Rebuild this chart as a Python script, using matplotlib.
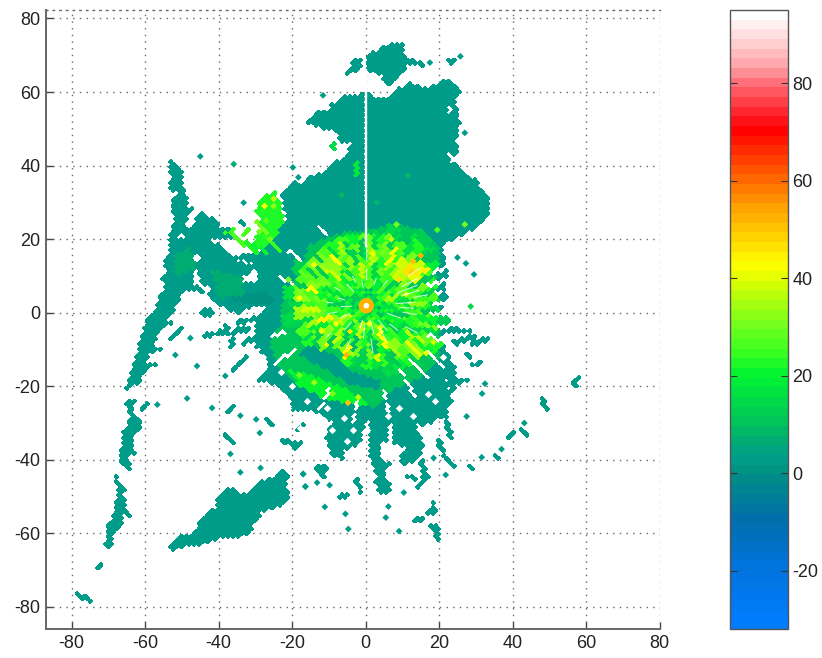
#!/usr/bin/env python3

import numpy as np
import matplotlib
matplotlib.use("Agg")
import matplotlib.pyplot as plt
from matplotlib.cm import ScalarMappable
from matplotlib.collections import LineCollection
from matplotlib.colors import LinearSegmentedColormap, Normalize
from matplotlib.patches import Circle
from matplotlib.path import Path

nan = np.nan

# reflectivity scale, value -> rgb
scale_values = [-32, -20, -10, 0, 3, 6, 10, 20, 25, 30, 40, 43, 45, 50, 55, 60, 65, 71, 75, 80, 85, 90, 95]
scale_colors = [(0, 125, 255), (0, 115, 220), (0, 110, 170), (0, 145, 130), (0, 160, 140), (0, 170, 115),
                (0, 195, 90), (0, 245, 50), (60, 255, 30), (110, 255, 30), (225, 255, 0), (255, 255, 0),
                (255, 240, 0), (255, 200, 0), (255, 160, 0), (255, 110, 0), (255, 60, 0), (255, 0, 0),
                (255, 40, 50), (255, 100, 110), (255, 170, 175), (255, 215, 215), (255, 255, 255)]
axis_ticks = [-80, -60, -40, -20, 0, 20, 40, 60, 80]
bar_ticks = [-20, 0, 20, 40, 60, 80]

clutter_db = 3

# big low-reflectivity outlines (km east, km north)
north_east = [(0.6, 59.5), (3.8, 57.9), (7, 58.6), (7.3, 60.5), (9.7, 61.4), (12, 62.5), (16.1, 60.9), (19.3, 62.3),
              (22.9, 63.6), (24.3, 61.8), (26.1, 60.5), (24.7, 59.1), (24.3, 55.9), (25.6, 55), (24.7, 53.2),
              (26.5, 51.4), (24.7, 50.5), (25.6, 48.2), (24.3, 47.7), (24.7, 45.5), (26.1, 43.6), (24.7, 43),
              (22.5, 43.2), (22.9, 40.9), (25.6, 39.5), (27, 37.7), (30.2, 35.9), (31.5, 33.2), (33.8, 32.3),
              (34, 30.8), (33, 25.4), (29.5, 22.6), (25.9, 20.8), (21.4, 18.9), (0.6, 12)]
north_west = [(-0.4, 59.5), (-6.2, 59.1), (-9.4, 56.4), (-9.4, 55), (-13, 55), (-15.3, 52.7), (-15.7, 51.4),
              (-12.5, 50.5), (-12.5, 49.5), (-8, 50), (-7.5, 46.4), (-3.9, 46.4), (-4.8, 44.1), (-4.8, 42.7),
              (-8.9, 40.5), (-12.5, 37.7), (-15.3, 36.8), (-17.1, 35), (-18.9, 35.5), (-23.5, 32.3), (-22.7, 30.8),
              (-21.4, 25.4), (-24, 21.7), (-25.9, 18.1), (-23, 12), (-0.4, 12)]
top_lobe = [(0.2, 69.7), (2.9, 71.4), (7.9, 73.2), (10.2, 73), (10.2, 70.5), (11.5, 69.1), (16.5, 67.7), (16.1, 67),
            (11.5, 67.7), (10.6, 65.9), (7.9, 63.6), (7.5, 61.8), (5.2, 61.5), (4.7, 65), (2.5, 65), (0.2, 66.4)]
top_small_a = [(-3.5, 68.6), (-1.2, 68.6), (-1.2, 65.9), (-3.9, 65), (-5.1, 65), (-4.8, 65.9)]
top_small_b = [(22.5, 68.6), (24.3, 68.8), (22.9, 67.3), (21.8, 67.3)]
west_arm = [(-52.5, 41.7), (-50.9, 39.9), (-49.5, 38.1), (-50, 35.4), (-49.1, 32.6), (-48.2, 30.8), (-49.1, 29),
            (-46.8, 28.1), (-48.6, 25.8), (-49.4, 23.1), (-47.7, 23.1), (-45, 27.2), (-43.6, 26.7), (-40, 24.5),
            (-39.5, 22.6), (-36.8, 23.1), (-35, 22.6), (-36.8, 20.4), (-40.5, 20.4), (-43.2, 19.9), (-39.5, 18.1),
            (-37.7, 17.2), (-36.8, 14.9), (-34.1, 13.5), (-30, 13.1), (-28.2, 12.6), (-30.5, 11.7), (-35.9, 8.5),
            (-31.4, 8.1), (-29.5, 8.5), (-26.8, 5.4), (-23.2, 6.3), (-23.2, 1.7), (-30.5, 1.7), (-35, -0.5),
            (-37.7, 0.8), (-40, 2.2), (-44.1, 5.4), (-48.6, 6.3), (-50.9, 3.5), (-52.3, 1.7), (-52.3, -0.5),
            (-54.5, -1.9), (-52.3, -2.8), (-56.4, -4.6), (-57.7, -9.2), (-54.1, -10.1), (-59.1, -11), (-59.5, -13.7),
            (-55, -13.7), (-60, -15.5), (-61.4, -19.2), (-64.1, -20.1), (-65.9, -22.8), (-64.1, -17.4), (-62.3, -11.9),
            (-61.4, -7.4), (-60, -2.8), (-57.7, -0.1), (-56.8, 2.6), (-55.5, 4.9), (-54.1, 8.1), (-55.5, 9.5),
            (-54.1, 10.4), (-54.8, 13.5), (-53.6, 16.3), (-53.2, 20.4), (-52.7, 23.5), (-51.8, 26.3), (-53.2, 29),
            (-51.4, 32.6), (-53.9, 34), (-52.7, 36.3), (-53.6, 38.5), (-53.2, 40.8)]
arm_low_a = [(-64.5, -23.6), (-62.7, -23.6), (-63.2, -27.2), (-60.9, -30), (-61.4, -31.3), (-62.7, -32.2),
             (-63.6, -34.5), (-62.7, -38.1), (-65, -39.5), (-63.6, -42.2), (-65, -43.1), (-66.8, -40), (-66.4, -36.3),
             (-65.9, -31.8), (-64.1, -29), (-64.5, -26.3), (-65.9, -23.6)]
arm_low_b = [(-68.6, -44.5), (-67.7, -44.5), (-65.5, -48.1), (-66.4, -50), (-65, -51.8), (-65.5, -53.6), (-63.6, -55),
             (-63.9, -55.6), (-65.9, -54.5), (-66.4, -55.4), (-65.9, -56.8), (-67.7, -59), (-69.1, -60.4),
             (-68.6, -62.2), (-69.5, -64.5), (-71.4, -62.7), (-70, -60.4), (-70.9, -59.5), (-69.1, -55.9),
             (-68.2, -53.6), (-68.6, -51.8), (-67.3, -49), (-67.7, -47.2)]
arm_diamond = [(-72.5, -67.7), (-71.2, -69), (-72.5, -70.3), (-73.8, -69)]
sw_blob = [(-22.3, -42.2), (-20.5, -44), (-21.4, -46.3), (-20.9, -50.4), (-22.7, -52.7), (-25, -53.1), (-28.6, -54.5),
           (-31.4, -59.5), (-33.6, -60.9), (-37.7, -61.3), (-42.3, -61.8), (-44.1, -63.1), (-46.8, -63.1), (-51.8, -64),
           (-52.7, -65.2), (-53.6, -64), (-50.5, -60.4), (-46.8, -60.4), (-45.7, -57.7), (-43.6, -54.5), (-40.9, -53.1),
           (-40.5, -50.4), (-36.8, -47.4), (-33.6, -49), (-31.4, -49), (-28.6, -45.9), (-25, -44.5)]
central_fan = [(21.4, 18.9), (20.5, 17.2), (22.7, 10.8), (21.4, 9), (22.3, 3.5), (20.5, -1), (22.3, -4.6), (20, -6.5),
               (24, -14.6), (25, -19.2), (20.5, -17.4), (24, -24.6), (20.5, -28.3), (15.9, -30.9), (13.2, -30),
               (6.8, -30), (0, -29.6), (-7.3, -31.4), (-8.6, -30), (-13.2, -27.3), (-19.5, -25.5), (-22.3, -21),
               (-28.6, -17.4), (-25.9, -13.7), (-29.5, -9.2), (-30.5, -4.6), (-28.6, 0), (-23.2, 6.3), (-26, 15),
               (-23, 22), (0, 30), (21, 24)]
west_bridge = [(-36, 15), (-28, 17), (-24, 22), (-20, 20), (-20, 5), (-28, 5), (-30, 11.7), (-28.2, 12.6)]
finger_s = [(1.4, -30), (6.4, -30), (5.9, -34.6), (3.6, -35.5), (4.1, -40), (7.7, -40.9), (5, -43.6), (7.3, -48.7),
            (4.1, -49.1), (2.3, -46.4), (3.2, -44.6), (1.4, -40)]
finger_se = [(7.7, -30), (13.2, -30), (15.9, -36.4), (14.5, -40), (10, -41.8), (9.5, -38.7), (10.9, -36.8), (7.7, -35.5)]
finger_e = [(14.5, -40), (15.9, -40), (17.3, -45.5), (14.5, -48.2), (13.6, -47.5), (15.5, -45.5)]
finger_w = [(-9.5, -30), (-0.5, -30), (-1.4, -35.5), (-5.9, -37.3), (-6.4, -40), (-9.1, -38.7), (-10.9, -33.6)]
finger_sw = [(-22.7, -33.6), (-20.5, -35), (-17.7, -35), (-19.5, -37.3), (-22.3, -35)]
block_l = [(-14.1, -41.8), (-10, -41.4), (-10.5, -43.6), (-11.8, -45.5), (-12.7, -43.2)]
block_tri = [(-45.5, 1.3), (-43.2, 1.3), (-40.9, -0.1), (-44.1, -1.9)]

# no-echo holes inside the outlines
hole_a = [(-51, 21.8), (-49.2, 21.8), (-49.2, 20), (-51, 20)]
hole_b = [(-47.3, 15.8), (-45, 15.8), (-45, 14), (-47.3, 14)]
hole_c = [(-47, 11), (-46, 11.4), (-44.5, 8), (-42, 6.4), (-43, 5.4), (-47, 7.7)]
hole_d = [(22, 55.9), (23.8, 55.9), (23.8, 54.1), (22, 54.1)]
hole_e = [(-33, 20), (-29, 20), (-28, 17.5), (-32, 17)]
hole_x = [-5.9, -9.1, -3.4, 0.3, -14.1, -11.4, -17.9, -5, -1.4, -10.5, -20, -23, -25, -28, 6, 9, 13, 17, 19, 21, -16, -18, -21, 24]
hole_y = [-28.7, -31.8, -32, -31.8, -28.2, -29.1, -31.4, -35, -35.9, -25.9, -20, -16, -22, -12, -28, -26, -28, -22, -24, -12, -24, -28, -26, -10]

# stronger echo layers
nw_patch = [(-30, 28), (-28.6, 31), (-24.5, 33), (-23.2, 29.5), (-22.3, 25), (-24, 21.7), (-27.7, 17.2), (-31, 19), (-28, 23)]
mid_green = [(0, 22.6), (8.6, 24.5), (16.8, 21.7), (20.5, 18.1), (19.1, 7.2), (20.5, -2.8), (20.5, -11.9), (15, -17.4),
             (8.6, -20.1), (2.3, -25.5), (-5, -24.6), (-15.9, -21), (-23.2, -15.5), (-25.9, -8.3), (-23.2, -2.8),
             (-22.3, 5.4), (-17.7, 11.7), (-15.9, 18.1), (-7.7, 21.7)]
south_arc = [(-22.3, -14.6), (-13.2, -17.4), (-4.1, -21), (1.4, -25.5), (-2.3, -24.6), (-10.5, -23.7), (-17.7, -20)]
dark_band = [(-15.9, -8.3), (-10.5, -10.1), (-4.1, -15.5), (4.1, -18.3), (4.1, -21), (-4.1, -19.2), (-12.3, -14.6), (-18.6, -11)]
tint_green_a = [(-52, 16), (-48, 18), (-46, 12), (-52, 10)]
tint_green_b = [(-42, 12), (-34, 10), (-33, 5), (-40, 4)]
tint_blue = [(-38, 4), (-28, 6), (-24, 3), (-30, 2)]

# thin blocky echoes
stroke_db = [3] * 41 + [18, 24, 22, 14, 26, 24, 26, 30, 20]
stroke_paths = [
    [(20.5, -23.7), (23.2, -33.6)], [(24, -20), (21.4, -23.7)], [(19.5, -34.6), (21.2, -37.3)], [(21.4, -39.3), (23.9, -42)],
    [(27.7, -41.6), (28.8, -42.9)], [(38.8, -34.1), (40.5, -32.3)], [(42.7, -32), (44.1, -33.2)], [(48.2, -23.7), (49.5, -26.4)],
    [(56.8, -19.6), (57.9, -18.2)], [(-2.3, -45.5), (-1.4, -48.2)], [(-7, -50), (-4.7, -49.8)], [(16.8, -54.6), (18.8, -53.8), (18.2, -51.8)],
    [(13.6, -56.4), (15.5, -55.9)], [(17.7, -58.2), (19.4, -58.2), (19.7, -61.4)], [(11.8, -44.4), (13.2, -45.3)], [(35, -39.1), (36.6, -39.5)],
    [(22.3, -4.6), (27.7, -5)], [(24, -8.3), (29.5, -6.5)], [(29.5, -8.3), (33.6, -6.9)], [(27.3, -11), (28.6, -12.4)],
    [(29.5, -14.2), (31.4, -13.7)], [(19.5, -20), (27.7, -18.3)], [(-44.1, -6.3), (-40, -5.4), (-37.7, -5.7)], [(-38.2, -3.7), (-37.7, -5.7)],
    [(-53.2, -6.9), (-50.5, -4.6)], [(-36.4, -9.2), (-35.9, -5.1), (-32.3, -4.2)], [(-33, -8.1), (-30, -6.9)], [(-35.9, -15.5), (-32.3, -12.4)],
    [(-29.5, -18.3), (-23.2, -17.4)], [(-27.3, -4.6), (-29.5, -9.2)], [(-35, -2.8), (-29.5, -1.5)], [(-34.1, 24.7), (-33.2, 24.1)],
    [(-60.9, -25.9), (-59.7, -25)], [(-37.7, -26.8), (-36.4, -25.6)], [(-26.4, -29), (-25.9, -30.4)], [(-38.2, -32.7), (-35.9, -35)],
    [(-22.3, -34.5), (-19.5, -36.3), (-17.2, -35.4)], [(-19.5, -26.3), (-14.1, -25.4)], [(-18.2, -31.8), (-17.3, -30.4)],
    [(-78.5, -76.5), (-77.2, -77.4)], [(-76.4, -77.4), (-75, -78.4)],
    [(-2.7, 41), (-2.5, 37.5)], [(-28, 21), (-24, 17)], [(-33, 19), (-30, 16)], [(-8.7, 46), (-8.6, 44)], [(-36, 21), (-33.5, 18.5)],
    [(-38, 21.5), (-36, 23)], [(-33, 21), (-31.6, 22.7)], [(-30, 25), (-27, 21.7)], [(-30, 18.5), (-27, 16)],
]

# single cells: east, north, db
speck_x = [25.8, 17.5, -11.6, 27, -19.8, -18.3, -17, -16.4, -9.8, -13.2, -11.1, -5.5, -4.7, 5.5, 6.2, 10.4, 9.1, 21.8, 18.5,
           31.6, 37, 27.5, 31.7, 32.5, 43.2, 25, 27.3, 29.5, -47.7, -51.8, -45.9, -38.2, -33.2, -45, -35.9, -48.6, -56.7,
           -41.8, -34.1, -29.8, -28.8, -36.8, -34.1, -28.6, -17, -16.4, -13.2, 28.6, 11.5, 3, -6.5, 8.4, 19.5, 27, -25, -27, -29,
           13, 12.5, 9, 15, -5.2, 16.5, -14, -18, -8, 1, -4.8, 4, -27.5, -25, -26, 7, 2, 11, 18.5, -12, -21, -14, -9, -18, -2]
speck_y = [69.7, 68, 59.1, 48.9, 39.5, 36.8, -43.9, -47.3, -46.9, -46.2, -52.8, -54.7, -58.8, -55.7, -52.7, -48.9, -59.4, -44.1, -39.5,
           -39.3, -37.1, -28.2, -22, -19.3, -30, 15, 13.4, 10.4, -6.9, -11.5, -14.5, -17.2, 29.9, 42.5, 40.4, -23.3, -25,
           -25.9, -28, -29, -32.7, -38.4, -43.4, -42.2, -43.8, -47.2, -42.2, 1.7, 37.3, 30, 32, 24, 22.5, 24, 29, 25, 22,
           14, 11, 9, 15.5, -11.5, -11, 13, 4, -3, -3, -24.5, -4, 29, 31, 20, 20, 16, 5, -8, -5, 9, -19, -22, -17, -23]
speck_db = [3, 3, 3, 3, 3, 3, 3, 3, 3, 3, 3, 3, 3, 3, 3, 3, 3, 3, 3,
            3, 3, 3, 3, 3, 3, 3, 3, 3, 3, 3, 3, 3, 3, 3, 6, 3, 3,
            3, 3, 3, 3, 3, 3, 3, 3, 3, 3, 14, 8, 8, 8, 30, 26, 30, 32, 28, 30,
            50, 48, 46, 52, 52, 40, 42, 42, 42, 42, 50, 40, 42, 36, 30, 36, 40, 38, 38, 40, 30, 34, 32, 30, 36]

# echo core around the radar: one row per azimuth, one column per range gate
azimuth_deg = np.arange(0, 360, 10)
range_edges = [2, 5, 8, 11, 14, 17, 20, 23, 26]
core_db = np.array([
    [10, 22, 30, 26, 32, 28, nan, nan],
    [20, 28, 24, 34, 26, 22, nan, nan],
    [8, 26, 30, 22, 28, 24, 14, nan],
    [22, 18, 26, 32, 24, 26, nan, nan],
    [14, 28, 24, 34, 38, 30, 22, 12],
    [24, 20, 30, 36, 46, 38, nan, nan],
    [10, 26, 22, 32, 40, 26, 18, nan],
    [22, 14, 28, 24, 30, 22, nan, nan],
    [12, 24, 18, 28, 24, 26, nan, nan],
    [18, 10, 24, 16, 22, 14, nan, nan],
    [8, 22, 16, 24, 18, 20, 12, nan],
    [20, 12, 26, 22, 24, 16, nan, nan],
    [10, 24, 18, 26, 22, 28, 22, nan],
    [22, 18, 28, 20, 30, 32, nan, nan],
    [12, 26, 22, 32, 26, 22, nan, nan],
    [26, 32, 24, 22, 26, 18, nan, nan],
    [18, 34, 26, 20, 24, 14, nan, nan],
    [24, 28, 18, 24, 16, nan, nan, nan],
    [14, 26, 22, 16, 22, nan, nan, nan],
    [24, 20, 26, 30, 14, nan, nan, nan],
    [12, 30, 24, 34, 22, nan, nan, nan],
    [22, 26, 38, 32, nan, nan, nan, nan],
    [18, 32, 28, 36, nan, nan, nan, nan],
    [26, 22, 34, 26, 30, nan, nan, nan],
    [14, 30, 24, 32, 28, 22, nan, nan],
    [20, 22, 32, 24, 34, 26, nan, nan],
    [10, 24, 20, 28, 32, 32, 14, nan],
    [16, 14, 24, 26, 24, 34, nan, nan],
    [8, 22, 16, 30, 26, 30, 16, nan],
    [18, 12, 26, 22, 32, 26, nan, nan],
    [10, 24, 22, 30, 28, 24, 12, nan],
    [22, 16, 28, 24, 34, 30, nan, nan],
    [12, 24, 22, 32, 32, 26, nan, nan],
    [20, 18, 30, 26, 30, 22, nan, nan],
    [14, 26, 24, 32, 26, 24, nan, nan],
    [22, 20, 30, 26, 28, 20, nan, nan],
])

# coloured radial streaks over the core: azimuth, start range, end range, db
streak_az = [3, 7, 13, 17, 24, 27, 33, 37, 43, 47, 52, 58, 63, 67, 72, 77, 83, 88, 92, 97, 103, 107, 113, 117, 122, 127, 133, 137,
             143, 147, 153, 157, 163, 167, 173, 177, 183, 187, 193, 197, 203, 207, 213, 217, 223, 227, 233, 237, 243, 247, 253, 257,
             263, 267, 273, 277, 283, 287, 293, 297, 303, 307, 313, 317, 323, 327, 333, 337, 343, 347, 353, 357,
             8, 22, 35, 48, 65, 78, 95, 112, 125, 138, 152, 168, 182, 198, 212, 228, 242, 255, 272, 288, 302, 315, 328, 342, 356]
streak_r0 = [6, 12, 8, 15, 5, 13, 9, 17, 11, 14, 7, 16, 10, 13, 6, 15, 9, 12, 5, 14, 8, 16, 6, 11, 13, 7, 15, 9,
             5, 12, 8, 14, 4, 11, 7, 10, 6, 13, 5, 9, 12, 7, 8, 11, 6, 13, 9, 14, 5, 12, 10, 15,
             7, 13, 6, 16, 9, 14, 8, 17, 5, 13, 10, 16, 7, 14, 9, 15, 6, 12, 8, 13,
             16, 17, 18, 18, 17, 16, 15, 16, 17, 18, 14, 10, 12, 9, 9, 12, 15, 18, 18, 17, 16, 17, 16, 15, 14]
streak_r1 = [10, 17, 12, 20, 9, 18, 13, 21, 16, 19, 11, 20, 14, 18, 9, 19, 13, 16, 8, 18, 12, 20, 10, 15, 18, 11, 20, 13,
             9, 16, 12, 18, 8, 15, 11, 14, 9, 17, 8, 13, 15, 10, 11, 14, 9, 15, 12, 17, 8, 16, 14, 19,
             11, 17, 10, 19, 13, 18, 12, 20, 9, 17, 14, 19, 11, 18, 13, 19, 10, 16, 12, 17,
             20, 22, 23, 24, 20, 19, 18, 19, 21, 22, 18, 13, 15, 12, 12, 14, 19, 21, 21, 20, 19, 20, 19, 18, 18]
streak_db = [26, 36, 14, 30, 18, 40, 24, 16, 38, 46, 12, 44, 28, 10, 34, 22, 14, 32, 16, 26, 10, 30, 20, 14, 36, 12, 40, 24,
             18, 34, 42, 12, 26, 38, 14, 30, 22, 12, 36, 16, 42, 20, 46, 28, 14, 40, 24, 12, 36, 18, 44, 14,
             24, 38, 12, 32, 20, 42, 16, 28, 24, 12, 38, 30, 18, 42, 14, 34, 26, 12, 36, 18,
             14, 12, 16, 14, 10, 12, 10, 14, 20, 12, 10, 8, 12, 8, 10, 10, 14, 12, 14, 10, 12, 10, 14, 12, 10]

# radial dropouts: azimuth, start range, end range
gap_az = [55, 62, 68, 74, 80, 86, 93, 100, 110, 118, 128, 140, 150, 165, 172, 185, 195, 205, 222, 232, 245, 258, 268, 275,
          285, 300, 318, 335, 350, 20, 40, 0.5, 0.5]
gap_r0 = [14, 11, 9, 10, 13, 8, 9, 10, 6, 12, 8, 5, 7, 4, 9, 5, 4, 10, 6, 12, 5, 8, 4, 9, 6, 8, 5, 7, 5, 6, 7, 7, 12]
gap_r1 = [18, 16, 15, 15, 17, 13, 13, 14, 10, 16, 11, 9, 11, 8, 13, 9, 7, 13, 9, 14, 8, 11, 7, 11, 8, 10, 8, 9, 7,
          8, 9, 10, 16]

# wider dropouts through the rim of the echo
cut_az = [64, 72, 80, 88, 97, 106, 115, 128, 140, 152, 168, 186, 204, 238, 252, 288, 305, 330]
cut_r0 = [20, 18, 19, 18, 18, 20, 19, 21, 19, 20, 24, 26, 25, 23, 23, 21, 22, 22]
cut_r1 = [27, 27, 25, 24, 25, 26, 26, 27, 26, 28, 30, 32, 31, 30, 27, 25, 26, 25]

# beam blockage north of the radar: east, start north, end north
blocked_x, blocked_y0, blocked_y1 = 0.1, 18, 66

radar_x, radar_y = 0.2, 1.9
ring_db = 52

cmap = LinearSegmentedColormap.from_list(
    "reflectivity",
    [((v + 32) / 127, tuple(c / 255 for c in rgb)) for v, rgb in zip(scale_values, scale_colors)],
    N=64,
)
norm = Normalize(-32, 95)

plt.rcParams['font.family'] = ['Liberation Sans', 'DejaVu Sans']
plt.rcParams['axes.unicode_minus'] = False

fig = plt.figure(figsize=(8.22, 6.58), dpi=100)
ax = fig.add_axes([46 / 822, 1 - 629 / 658, 613.5 / 822, 619 / 658])
cax = fig.add_axes([730 / 822, 1 - 629 / 658, 58 / 822, 619 / 658])

# radar cells sit on a grid turned by 45 degrees
cell = 1.0
u_edges = np.arange(-125, 125.5, cell)
uu, vv = np.meshgrid(u_edges, u_edges)
cell_edge_x = (uu - vv) / np.sqrt(2)
cell_edge_y = (uu + vv) / np.sqrt(2)
u_mid = (u_edges[:-1] + u_edges[1:]) / 2
um, vm = np.meshgrid(u_mid, u_mid)
cell_x = (um - vm) / np.sqrt(2)
cell_y = (um + vm) / np.sqrt(2)
cell_xy = np.column_stack([cell_x.ravel(), cell_y.ravel()])
field = np.full(cell_x.shape, nan)


def burn(polys, db):
    for poly in polys:
        inside = Path(poly + [poly[0]]).contains_points(cell_xy).reshape(field.shape)
        field[inside] = db


def burn_line(path, db):
    for (x0, y0), (x1, y1) in zip(path[:-1], path[1:]):
        n = int(np.hypot(x1 - x0, y1 - y0) / 0.25) + 2
        xs = np.linspace(x0, x1, n)
        ys = np.linspace(y0, y1, n)
        iu = np.floor(((xs + ys) / np.sqrt(2) - u_edges[0]) / cell).astype(int)
        iv = np.floor(((ys - xs) / np.sqrt(2) - u_edges[0]) / cell).astype(int)
        field[iv, iu] = db


def polar_path(az, r0, r1):
    a = np.deg2rad(az)
    return [(radar_x + r0 * np.sin(a), radar_y + r0 * np.cos(a)), (radar_x + r1 * np.sin(a), radar_y + r1 * np.cos(a))]


burn([north_east, north_west, top_lobe, top_small_a, top_small_b, west_arm, west_bridge, arm_low_a, arm_low_b,
      arm_diamond, sw_blob, central_fan, finger_s, finger_se, finger_e, finger_w, finger_sw, block_l,
      block_tri], clutter_db)
burn([tint_green_a, tint_green_b], 7)
burn([tint_blue], 0)
burn([hole_a, hole_b, hole_c, hole_d, hole_e], nan)
burn([nw_patch], 22)
burn([mid_green], 11)
burn([south_arc], 20)
burn([dark_band], clutter_db)

# core table onto the same cells
cell_r = np.hypot(cell_x - radar_x, cell_y - radar_y)
cell_az = np.degrees(np.arctan2(cell_x - radar_x, cell_y - radar_y)) % 360
az_i = (((cell_az + 5) // 10).astype(int)) % len(azimuth_deg)
ring_i = np.searchsorted(range_edges, cell_r) - 1
in_core = (ring_i >= 0) & (ring_i < core_db.shape[1])
core_vals = core_db[az_i[in_core], ring_i[in_core]]
core_field = field[in_core]
core_field[~np.isnan(core_vals)] = core_vals[~np.isnan(core_vals)]
field[in_core] = core_field

for az, r0, r1, db in zip(streak_az, streak_r0, streak_r1, streak_db):
    burn_line(polar_path(az, r0, r1), db)
for az, r0, r1 in zip(cut_az, cut_r0, cut_r1):
    burn_line(polar_path(az, r0, r1), nan)
for path, db in zip(stroke_paths, stroke_db):
    burn_line(path, db)

ax.pcolormesh(cell_edge_x, cell_edge_y, np.ma.masked_invalid(field), cmap=cmap, norm=norm, zorder=2)

ax.scatter(speck_x, speck_y, c=speck_db, cmap=cmap, norm=norm, marker='D', s=12, linewidths=0, zorder=5)
ax.scatter(hole_x, hole_y, c='white', marker='D', s=14, linewidths=0, zorder=5)

ax.plot([blocked_x, blocked_x], [blocked_y0, blocked_y1], color='white', linewidth=1.7, zorder=5.5)
gap_segments = [polar_path(az, r0, r1) for az, r0, r1 in zip(gap_az, gap_r0, gap_r1)]
ax.add_collection(LineCollection(gap_segments, colors='white', linewidths=0.8, alpha=0.75, zorder=6))

ax.add_patch(Circle((radar_x, radar_y), 2.1, facecolor=cmap(norm(ring_db)), edgecolor='none', zorder=7))
ax.add_patch(Circle((radar_x, radar_y), 0.75, facecolor='white', edgecolor='none', zorder=8))

ax.set_xlim(-87, 80)
ax.set_ylim(-86, 82.3)
ax.set_xticks(axis_ticks)
ax.set_yticks(axis_ticks)
ax.set_axisbelow(True)
ax.grid(True, linestyle=(0, (1, 3.8)), color='#666666', linewidth=1)
ax.tick_params(direction='in', length=5, width=1, color='#444444', labelsize=13, labelcolor='#222222', pad=4)
for side in ['left', 'bottom']:
    ax.spines[side].set_color('#666666')
    ax.spines[side].set_linewidth(1.4)
ax.spines['right'].set_visible(False)
ax.spines['top'].set_color('#666666')
ax.spines['top'].set_linewidth(1)
ax.spines['top'].set_linestyle((0, (1, 3.8)))

cb = fig.colorbar(ScalarMappable(norm=norm, cmap=cmap), cax=cax, ticks=bar_ticks)
cb.outline.set_edgecolor('#555555')
cb.outline.set_linewidth(1)
cax.tick_params(left=True, right=True, direction='in', length=5, width=0.8, color='#333333',
                labelsize=13, labelcolor='#222222', pad=3)

plt.savefig('out.png', dpi=100)
